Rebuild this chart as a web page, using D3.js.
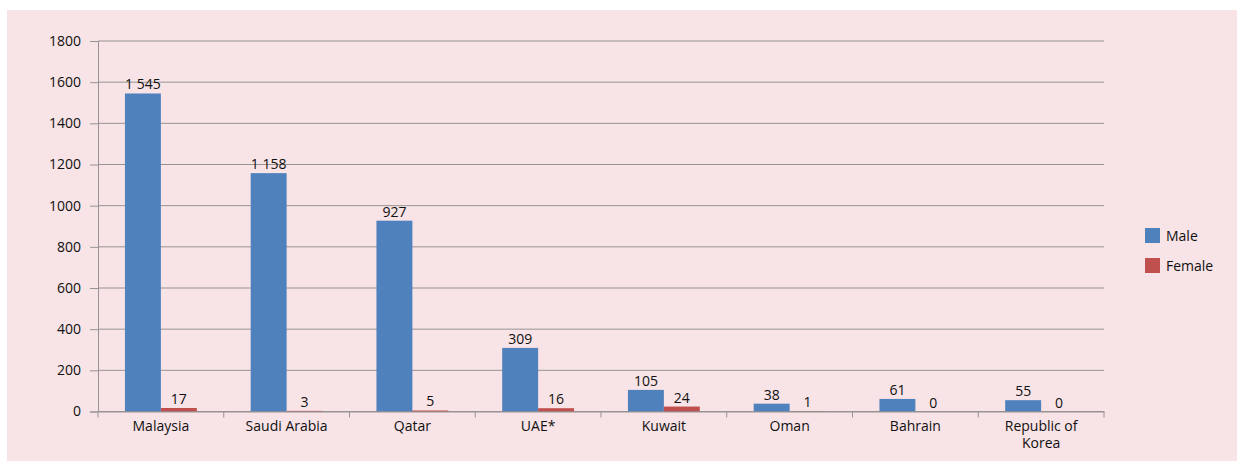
<!DOCTYPE html>
<html><head><meta charset="utf-8">
<script src="https://cdn.jsdelivr.net/npm/d3@7"></script>
<style>body{margin:0;background:#fff;} text{font-family:"Open Sans","Noto Sans",sans-serif;}</style>
</head><body>
<svg id="c" width="1244" height="461"></svg>
<script>
const categories = ["Malaysia","Saudi Arabia","Qatar","UAE*","Kuwait","Oman","Bahrain","Republic of|Korea"];
const male = [1545,1158,927,309,105,38,61,55];
const female = [17,3,5,16,24,1,0,0];
const maleLabels = ["1 545","1 158","927","309","105","38","61","55"];
const femaleLabels = ["17","3","5","16","24","1","0","0"];
const yTicks = [0,200,400,600,800,1000,1200,1400,1600,1800];
const seriesNames = ["Male","Female"];
const colors = ["#4F81BD","#C0504D"];

(function(){
const svg = d3.select("#c");
const axisCol = "#979393";
svg.append("rect").attr("x",7).attr("y",10).attr("width",1230).attr("height",451).attr("fill","#F8E3E6");

const pl=98,pr=1104,pt=41,pb=411.5;
const x = d3.scaleBand().domain(categories).range([pl,pr]).paddingInner(0).paddingOuter(0);
const y = d3.scaleLinear().domain([0,1800]).range([pb,pt]);
const xs = d3.scaleBand().domain(seriesNames).range([0,x.bandwidth()]).paddingInner(0).paddingOuter(0.75);

svg.append("g").selectAll("line").data(yTicks).join("line")
  .attr("x1",pl).attr("x2",pr).attr("y1",d=>y(d)).attr("y2",d=>y(d))
  .attr("stroke",axisCol).attr("stroke-width",1);

const yAxis = svg.append("g").attr("transform",`translate(${pl},0)`)
  .call(d3.axisLeft(y).tickValues(yTicks).tickSize(8).tickPadding(3).tickFormat(d=>d));
yAxis.select(".domain").attr("stroke",axisCol);
yAxis.selectAll(".tick line").attr("stroke",axisCol);
yAxis.selectAll("text").attr("font-size",14).attr("fill","#111").attr("dx","-6").attr("font-family","Open Sans");

const series = [male,female];
const labels = [maleLabels,femaleLabels];
series.forEach((vals,si)=>{
  const g = svg.append("g");
  g.selectAll("rect").data(vals).join("rect")
    .attr("x",(d,i)=>x(categories[i])+xs(seriesNames[si]))
    .attr("width",xs.bandwidth())
    .attr("y",d=>y(d)).attr("height",d=>pb-y(d))
    .attr("fill",colors[si]);
  g.selectAll("text").data(vals).join("text")
    .attr("x",(d,i)=>x(categories[i])+xs(seriesNames[si])+xs.bandwidth()/2)
    .attr("y",d=>y(d)-4)
    .attr("text-anchor","middle").attr("font-size",14).attr("fill","#111")
    .text((d,i)=>labels[si][i]);
});

const xAxis = svg.append("g").attr("transform",`translate(0,${pb})`)
  .call(d3.axisBottom(x).tickSize(0).tickFormat(""));
xAxis.select(".domain").attr("stroke",axisCol);
const bounds = categories.map(c=>x(c)).concat([pr]);
svg.append("g").selectAll("line").data(bounds).join("line")
  .attr("x1",d=>d).attr("x2",d=>d).attr("y1",pb).attr("y2",pb+6)
  .attr("stroke",axisCol);
const lbl = svg.append("g").selectAll("text").data(categories).join("text")
  .attr("x",d=>x(d)+x.bandwidth()/2).attr("y",pb+19.5)
  .attr("text-anchor","middle").attr("font-size",14).attr("fill","#111");
lbl.each(function(d){
  const parts=d.split("|");
  const t=d3.select(this);
  parts.forEach((p,i)=>t.append("tspan").attr("x",x(d)+x.bandwidth()/2).attr("dy",i?17:0).text(p));
});

const lg = svg.append("g");
seriesNames.forEach((n,i)=>{
  lg.append("rect").attr("x",1145).attr("y",228+i*30).attr("width",15).attr("height",15).attr("fill",colors[i]);
  lg.append("text").attr("x",1166).attr("y",241+i*30).attr("font-size",14).attr("fill","#111").text(n);
});
})();
</script>
</body></html>
